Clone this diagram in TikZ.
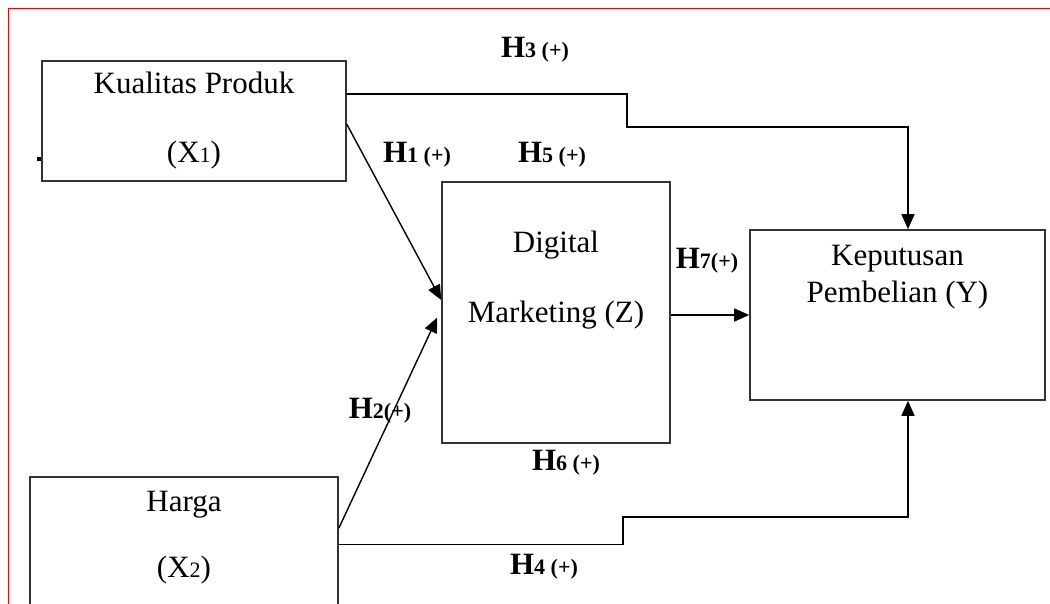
\documentclass[tikz,border=0pt]{standalone}
\usepackage{fontspec}
\setmainfont{Liberation Serif}
\usetikzlibrary{positioning,arrows.meta,calc}

\newcommand{\smallidx}[1]{{\fontsize{11}{13}\selectfont #1}}
\newcommand{\hyplabel}[1]{\textbf{H\smallidx{#1}}}

\begin{document}
\begin{tikzpicture}[x=0.5pt, y=-0.5pt,
        every node/.style={font=\fontsize{15.5}{18.6}\selectfont},
        var/.style={rectangle, draw=black!80, line width=0.8pt, inner sep=0pt},
        vartext/.style={align=center, inner sep=1pt},
        hlabel/.style={inner sep=1pt},
        arrow/.style={-{Triangle[length=7.5pt,width=6.5pt]}, line width=0.7pt},
        frame/.style={red, line width=0.8pt}
    ]
    \useasboundingbox (0,0) rectangle (1050,604);
    \clip (0,0) rectangle (1050,604);
    \draw[frame] (1050,8.5) -| (8.5,604);

    % variables
    \node[var, minimum width=152pt, minimum height=60pt, align=center] (x1) at (194,121)
        {Kualitas Produk\\[15.9pt](X\smallidx{1})};
    \node[var, minimum width=154pt, minimum height=65pt] (x2) at (184,542) {};
    \node[vartext] (x2text) at (184,538) {Harga\\[14.4pt](X\smallidx{2})};
    \node[var, minimum width=114pt, minimum height=130.5pt] (z) at (556,312.5) {};
    \node[vartext] (ztext) at (556,280) {Digital\\[16.4pt]Marketing (Z)};
    \node[var, minimum width=147.5pt, minimum height=85pt] (y) at (897.5,315) {};
    \node[vartext] (ytext) at (897.5,277) {Keputusan\\Pembelian (Y)};
    \fill (36.5,157.5) rectangle (40.5,161);

    % hypotheses
    \node[hlabel] (h1) at (417,155) {\hyplabel{1 (+)}};
    \node[hlabel] (h2) at (380,411) {\hyplabel{2(+)}};
    \node[hlabel] (h3) at (535,50) {\hyplabel{3 (+)}};
    \node[hlabel] (h4) at (544,567) {\hyplabel{4 (+)}};
    \node[hlabel] (h5) at (552,155) {\hyplabel{5 (+)}};
    \node[hlabel] (h6) at (566,463) {\hyplabel{6 (+)}};
    \node[hlabel] (h7) at (707,261) {\hyplabel{7(+)}};

    % paths
    \coordinate (s1) at ($(x1.north east)+(0,64)$);
    \coordinate (e1) at ($(z.west)+(0,-12.5)$);
    \coordinate (s2) at ($(x2.north east)+(0,52)$);
    \coordinate (e2) at ($(z.west)+(-4,5)$);
    \coordinate (s3) at ($(x1.north east)+(0,34)$);
    \coordinate (k3) at (627,127);
    \coordinate (e3) at ($(y.north)+(10.5,0)$);
    \coordinate (s4) at ($(x2.north east)+(0,68)$);
    \coordinate (k4) at (623,517);
    \coordinate (e4) at ($(y.south)+(10.5,0)$);
    \draw[arrow] (s1) -- (e1);
    \draw[arrow] (s2) -- (e2);
    \draw[arrow] (s3) -| (k3) -| (e3);
    \draw[arrow] (s4) -| (k4) -| (e4);
    \draw[arrow] (z.east |- y.west) -- (y.west);
\end{tikzpicture}
\end{document}
